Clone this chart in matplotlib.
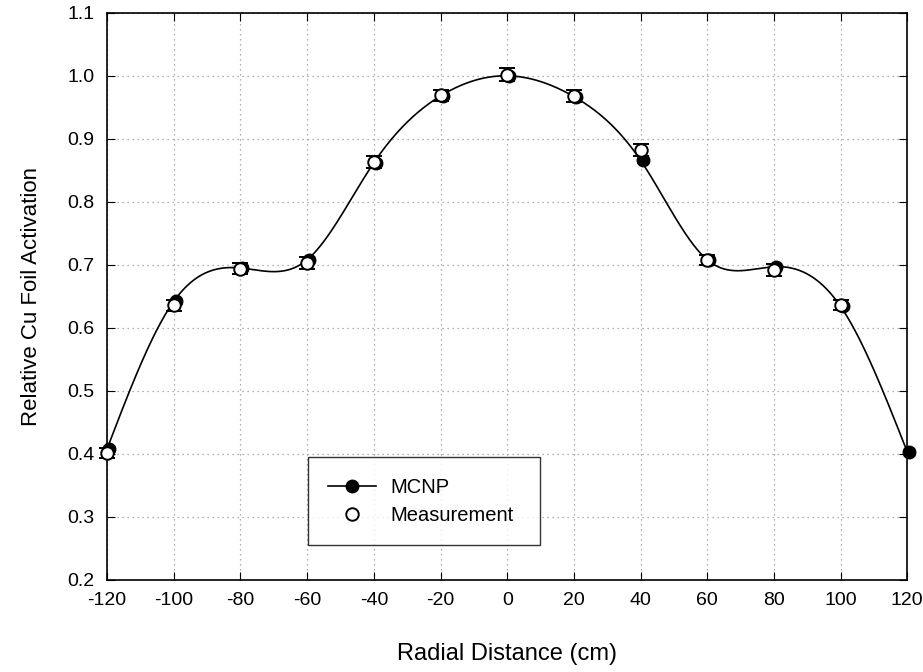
import numpy as np
import matplotlib
matplotlib.use('Agg')
from matplotlib import pyplot as plt

plt.rcParams['font.family'] = ['Liberation Sans', 'DejaVu Sans']
plt.rcParams['axes.unicode_minus'] = False

# radial positions (cm)
x = [-120, -100, -80, -60, -40, -20, 0, 20, 40, 60, 80, 100, 120]

# MCNP calculated relative activation
mcnp = [0.408, 0.642, 0.695, 0.708, 0.862, 0.968, 1.000, 0.967, 0.866, 0.708, 0.697, 0.634, 0.403]
mcnp_err = [0.004, 0.004, 0.004, 0.004, 0.004, 0.004, 0.004, 0.004, 0.004, 0.004, 0.004, 0.004, 0.004]

# measured relative activation
meas_x = [-120, -100, -80, -60, -40, -20, 0, 20, 40, 60, 80, 100]
meas = [0.402, 0.636, 0.694, 0.703, 0.863, 0.969, 1.002, 0.968, 0.882, 0.708, 0.692, 0.636]
meas_err = [0.008, 0.009, 0.009, 0.009, 0.009, 0.009, 0.010, 0.009, 0.009, 0.008, 0.009, 0.008]


def natural_spline(xs, ys, xnew):
    # natural cubic spline through the points
    xs = np.asarray(xs, float)
    ys = np.asarray(ys, float)
    n = len(xs)
    h = np.diff(xs)
    A = np.zeros((n, n))
    b = np.zeros(n)
    A[0, 0] = 1
    A[-1, -1] = 1
    for i in range(1, n - 1):
        A[i, i - 1] = h[i - 1]
        A[i, i] = 2 * (h[i - 1] + h[i])
        A[i, i + 1] = h[i]
        b[i] = 3 * ((ys[i + 1] - ys[i]) / h[i] - (ys[i] - ys[i - 1]) / h[i - 1])
    c = np.linalg.solve(A, b)
    out = np.empty_like(xnew)
    for k, xv in enumerate(xnew):
        i = min(max(np.searchsorted(xs, xv) - 1, 0), n - 2)
        dx = xv - xs[i]
        bb = (ys[i + 1] - ys[i]) / h[i] - h[i] * (2 * c[i] + c[i + 1]) / 3
        d = (c[i + 1] - c[i]) / (3 * h[i])
        out[k] = ys[i] + bb * dx + c[i] * dx ** 2 + d * dx ** 3
    return out


fig = plt.figure(figsize=(9.23, 6.72), dpi=100)
ax = fig.add_axes([0.116, 0.137, 0.867, 0.844])

xs = np.linspace(-120, 120, 600)
ax.plot(xs, natural_spline(x, mcnp, xs), color='black', lw=1.2, zorder=2)

e1 = ax.errorbar(np.array(x) + 0.6, mcnp, yerr=mcnp_err, fmt='o', color='black',
                 mfc='black', ms=9, capsize=4, elinewidth=1, zorder=3)
e2 = ax.errorbar(meas_x, meas, yerr=meas_err, fmt='o', color='black',
                 mfc='white', mec='black', ms=9, mew=1.4, capsize=5.5, elinewidth=1, zorder=4)
for e in (e1, e2):
    for art in e.get_children():
        art.set_clip_on(False)

# legend proxies
h1, = ax.plot([], [], '-o', color='black', mfc='black', ms=9, lw=1.2)
h2, = ax.plot([], [], 'o', color='black', mfc='white', ms=9, mew=1.4)
leg = ax.legend([h1, h2], ['MCNP', 'Measurement'], loc='lower left',
                bbox_to_anchor=(0.251, 0.062, 0.29, 0.157), mode='expand',
                borderaxespad=0, fontsize=14.5, frameon=True, fancybox=False,
                borderpad=1.0, handlelength=2.4, handletextpad=0.7,
                labelspacing=0.45)
leg.get_frame().set_edgecolor('black')
leg.get_frame().set_linewidth(1.0)

ax.set_xlim(-120, 120)
ax.set_ylim(0.2, 1.1)
ax.set_xticks(range(-120, 121, 20))
ax.set_yticks(np.arange(0.2, 1.101, 0.1))
ax.set_yticklabels(['%.1f' % v for v in np.arange(0.2, 1.101, 0.1)])
ax.tick_params(direction='in', top=True, right=True, labelsize=14, length=6, pad=9)
ax.grid(True, linestyle=(0, (1, 3)), color='#999999', linewidth=0.9)
for s in ax.spines.values():
    s.set_linewidth(1.2)

ax.set_xlabel('Radial Distance (cm)', fontsize=17, labelpad=24)
ax.set_ylabel('Relative Cu Foil Activation', fontsize=16, labelpad=18)

plt.savefig('out.png', dpi=100)
